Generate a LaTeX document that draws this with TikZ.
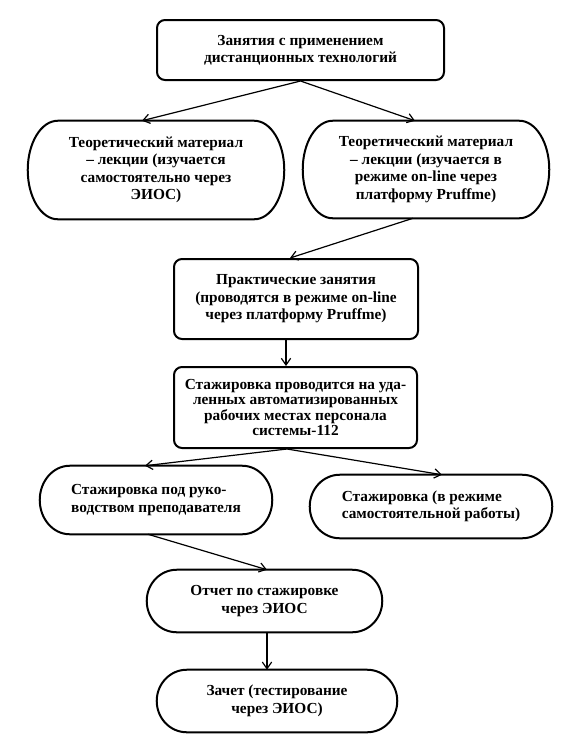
\documentclass[tikz,border=0pt]{standalone}
\usepackage{fontspec}
\setmainfont{Liberation Serif}
\usetikzlibrary{arrows.meta,calc}
\newcommand\stadoutline[2]{%
  \draw[boxline] let \p1=(#1.north west), \p2=(#1.south east), \n1={(\y1-\y2)/2} in
   (\x1+#2*0.75pt,\y1) -- (\x2-#2*0.75pt,\y1)
   arc[start angle=90,end angle=-90,x radius=#2*0.75pt,y radius=\n1]
   -- (\x1+#2*0.75pt,\y2)
   arc[start angle=270,end angle=90,x radius=#2*0.75pt,y radius=\n1] -- cycle;}
\begin{document}
\begin{tikzpicture}[x=0.75pt,y=-0.75pt,
  every node/.style={font=\bfseries\fontsize{11.5}{13.1}\selectfont, inner sep=0pt},
  boxline/.style={line width=1.5pt},
  rbox/.style={boxline, draw, rounded corners=6pt, align=center},
  sbox/.style={align=center},
  conn/.style={line width=0.9pt, -{Straight Barb[length=5pt,width=7pt,line width=0.9pt]}}]
\fill[white] (0,0) rectangle (572,736);
\useasboundingbox (0,0) rectangle (572,736);

\node[rbox, minimum width=287*0.75pt, minimum height=60*0.75pt] (top) at (300.5,50)
  {Занятия с применением\\дистанционных технологий};

\node[sbox, minimum width=256*0.75pt, minimum height=98*0.75pt] (l1) at (156,170)
  {Теоретический материал\\– лекции (изучается\\самостоятельно через\\ЭИОС)};
\node[sbox, minimum width=246*0.75pt, minimum height=97*0.75pt] (r1) at (426,169.5)
  {Теоретический материал\\– лекции (изучается в\\режиме on-line через\\платформу Pruffme)};

\node[rbox, minimum width=244*0.75pt, minimum height=80*0.75pt] (prac) at (296,299)
  {Практические занятия\\(проводятся в режиме on-line\\через платформу Pruffme)};

\node[rbox, minimum width=243*0.75pt, minimum height=81*0.75pt,
      font=\bfseries\fontsize{11.5}{11.6}\selectfont] (staj) at (295.5,407.5)
  {Стажировка проводится на уда-\\ленных автоматизированных\\рабочих местах персонала\\системы-112};

\node[align=left, minimum width=232*0.75pt, minimum height=68*0.75pt] (ll) at (156,500)
  {Стажировка под руко-\\водством преподавателя};
\node[align=left, minimum width=242*0.75pt, minimum height=63*0.75pt] (lr) at (431,506.5)
  {Стажировка (в режиме\\самостоятельной работы)};

\node[sbox, minimum width=235*0.75pt, minimum height=62*0.75pt] (ot) at (264.5,601)
  {Отчет по стажировке\\через ЭИОС};
\node[sbox, minimum width=240*0.75pt, minimum height=62*0.75pt] (za) at (277,701)
  {Зачет (тестирование\\через ЭИОС)};

\stadoutline{l1}{30}
\stadoutline{r1}{30}
\stadoutline{ll}{30}
\stadoutline{lr}{30}
\stadoutline{ot}{30}
\stadoutline{za}{30}

\draw[conn] (top.south) -- ($(l1.north)+(-14,0)$);
\draw[conn] (top.south) -- ($(r1.north)+(-11,0)$);
\draw[conn] ($(r1.south)+(-13,0)$) -- ($(prac.north)+(-6,0)$);
\draw[conn] ($(prac.south)+(-10,0)$) -- ($(staj.north)+(-9.5,0)$);
\draw[conn] ($(staj.south)+(-8.5,0)$) -- ($(ll.north)+(-11,0)$);
\draw[conn] ($(staj.south)+(-8.5,0)$) -- ($(lr.north)+(11,0)$);
\draw[conn] ($(ll.south)+(-8,0)$) -- ($(ot.north)+(2.5,0)$);
\draw[conn] ($(ot.south)+(2.5,0)$) -- ($(za.north)+(-10,0)$);
\end{tikzpicture}
\end{document}
